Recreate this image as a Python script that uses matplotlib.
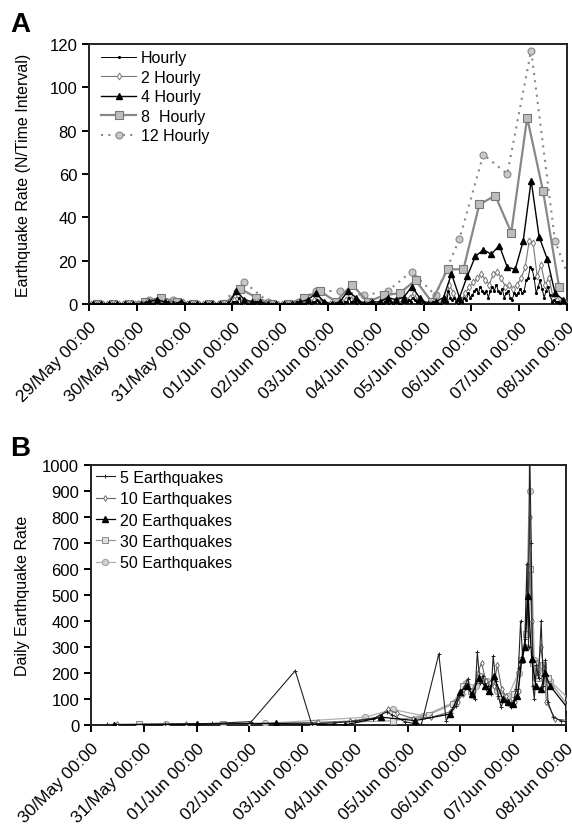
import numpy as np
import matplotlib
matplotlib.use("Agg")
import matplotlib.pyplot as plt

plt.rcParams['font.family'] = ['Liberation Sans', 'DejaVu Sans']

# ---------------- Panel A data (counts per interval) ----------------
a_ticks = ["29/May 00:00", "30/May 00:00", "31/May 00:00", "01/Jun 00:00",
           "02/Jun 00:00", "03/Jun 00:00", "04/Jun 00:00", "05/Jun 00:00",
           "06/Jun 00:00", "07/Jun 00:00", "08/Jun 00:00"]

# hourly counts, one row per day (24 values)
hourly = [
    0,0,0,0,0,0,0,0,0,0,0,0,0,0,0,0,0,0,0,0,0,0,0,0,
    0,0,0,0,1,0,0,0,0,1,1,0,0,0,0,1,0,0,0,0,0,0,1,0,
    0,0,0,0,0,0,0,0,0,0,0,0,0,0,0,0,0,0,0,0,0,0,0,0,
    1,1,1,3,0,1,1,0,0,0,0,1,1,0,0,0,0,0,0,0,0,0,0,0,
    0,0,0,0,0,0,0,0,1,0,0,0,0,1,1,0,1,1,2,1,0,1,0,0,
    0,0,0,0,0,0,1,0,1,1,3,1,1,1,0,1,0,0,0,0,0,1,0,0,
    0,0,1,0,1,1,0,1,0,1,1,0,0,1,1,1,2,1,3,2,1,1,0,1,
    0,0,0,0,1,0,0,0,0,1,1,1,6,3,2,3,1,0,1,1,3,2,5,3,
    4,6,7,5,8,6,5,6,3,6,8,6,9,6,5,7,3,5,6,3,2,5,4,5,
    7,5,6,11,12,17,16,12,5,8,11,7,3,6,8,4,1,2,1,1,0,1,1,0,
]
# 2-hourly counts (12 per day)
hourly2 = [
    0,0,0,0,0,0,0,0,0,0,0,0,
    0,0,1,0,1,1,0,1,0,0,0,1,
    0,0,0,0,0,0,0,0,0,0,0,0,
    2,4,1,1,0,1,1,0,0,0,0,0,
    0,0,0,0,1,0,1,1,2,3,1,0,
    0,0,0,1,2,4,2,1,0,0,1,0,
    0,1,2,1,1,1,1,2,3,5,2,1,
    0,0,1,0,1,2,9,5,1,2,5,8,
    10,12,14,11,9,14,15,12,8,9,7,9,
    12,17,29,28,13,18,9,12,3,2,1,1,
]
# 4-hourly counts (6 per day)
hourly4 = [
    0,0,0,0,0,0,
    0,1,2,1,0,1,
    0,0,0,0,0,0,
    6,2,1,1,0,0,
    0,0,1,2,5,1,
    0,1,6,3,0,1,
    1,3,2,3,8,3,
    0,1,3,14,3,13,
    22,25,23,27,17,16,
    29,57,31,21,5,2,
]
# 8-hourly counts (3 per day)
hourly8 = [0,0,0, 1,3,1, 0,0,0, 7,3,0, 0,3,6, 1,9,1, 4,5,11, 1,16,16, 46,50,33, 86,52,8]
# 12-hourly counts (2 per day), last one falls beyond the axis
hourly12 = [0,0, 2,2, 0,0, 10,1, 0,6, 6,4, 6,15, 4,30, 69,60, 117,29, 0]

# ---------------- Panel B data (daily rate from N-earthquake windows) ----------------
b_ticks = ["30/May 00:00", "31/May 00:00", "01/Jun 00:00", "02/Jun 00:00",
           "03/Jun 00:00", "04/Jun 00:00", "05/Jun 00:00", "06/Jun 00:00",
           "07/Jun 00:00", "08/Jun 00:00"]

t5 = [0.3, 1.4, 2.3, 3.04, 3.87, 4.18, 4.6, 5.0, 5.35, 5.6, 5.7, 5.95, 6.26, 6.59, 6.73,
      6.82, 6.92, 7.02, 7.08, 7.14, 7.2, 7.27, 7.32, 7.37, 7.43, 7.48, 7.53, 7.58, 7.62,
      7.67, 7.72, 7.77, 7.83, 7.9, 7.96, 8.01, 8.06, 8.1, 8.14, 8.18, 8.22, 8.26, 8.29,
      8.31, 8.34, 8.37, 8.4, 8.44, 8.48, 8.53, 8.57, 8.61, 8.66, 8.76, 8.9, 9.05]
v5 = [2, 3, 6, 13, 209, 4, 8, 15, 25, 50, 40, 12, 2, 273, 17,
      45, 75, 130, 150, 178, 110, 100, 280, 160, 190, 140, 150, 120, 265,
      170, 110, 69, 100, 80, 69, 95, 140, 220, 400, 250, 330, 620, 300,
      1100, 700, 150, 100, 230, 180, 400, 150, 250, 88, 31, 16, 10]

t10 = [0.5, 1.8, 3.0, 4.3, 4.9, 5.45, 5.62, 5.8, 6.1, 6.45, 6.8, 6.95, 7.05, 7.15, 7.25,
       7.33, 7.4, 7.48, 7.56, 7.63, 7.7, 7.78, 7.86, 7.95, 8.03, 8.1, 8.16, 8.22, 8.27,
       8.31, 8.35, 8.4, 8.46, 8.52, 8.58, 8.63, 8.8, 9.05]
v10 = [2, 4, 5, 10, 15, 30, 60, 45, 25, 30, 50, 90, 120, 150, 130,
       200, 240, 170, 160, 150, 230, 140, 110, 80, 90, 130, 250, 300, 500,
       800, 400, 180, 200, 300, 220, 88, 23, 17]

t20 = [0.44, 2.0, 3.5, 4.81, 5.5, 6.14, 6.8, 7.0, 7.12, 7.22, 7.35, 7.46, 7.55, 7.63,
       7.8, 7.9, 8.0, 8.08, 8.16, 8.22, 8.28, 8.35, 8.43, 8.53, 8.6, 8.7, 9.05]
v20 = [0, 3, 6, 0, 30, 17, 42, 127, 150, 120, 180, 150, 130, 190,
       100, 90, 81, 110, 254, 300, 497, 254, 150, 138, 200, 150, 60]

t30 = [0.9, 2.5, 4.2, 5.72, 6.4, 6.85, 7.05, 7.2, 7.35, 7.5, 7.62, 7.75, 7.9, 8.02,
       8.15, 8.25, 8.31, 8.38, 8.47, 8.56, 8.65, 9.05]
v30 = [4, 5, 8, 16, 40, 80, 150, 130, 190, 150, 160, 110, 90, 120,
       250, 350, 600, 240, 180, 230, 180, 70]

t50 = [1.43, 3.3, 5.2, 5.72, 6.3, 6.9, 7.1, 7.3, 7.5, 7.7, 7.9, 8.1, 8.22, 8.31, 8.4,
       8.55, 8.7, 9.05]
v50 = [4, 6, 30, 60, 35, 90, 160, 150, 170, 130, 110, 200, 300, 900, 250,
       200, 170, 100]

fig = plt.figure(figsize=(5.72, 8.28), dpi=100)
axA = fig.add_axes([89/572, 1-305/828, 478/572, 260/828])
axB = fig.add_axes([91/572, 1-726/828, 475/572, 260/828])

# bin centres in days
xh = (np.arange(len(hourly)) + 0.5) / 24
x2 = (np.arange(len(hourly2)) + 0.5) / 12
x4 = (np.arange(len(hourly4)) + 0.5) / 6
x8 = (np.arange(len(hourly8)) + 0.5) / 3
x12 = (np.arange(len(hourly12)) + 0.5) / 2

axA.plot(xh, hourly, color="black", lw=0.7, marker=".", ms=2.5, label="Hourly", zorder=5)
axA.plot(x2, hourly2, color="#777777", lw=0.8, marker="d", ms=3.5, mfc="white",
         mec="#777777", mew=0.7, label="2 Hourly", zorder=4)
axA.plot(x4, hourly4, color="black", lw=1.0, marker="^", ms=5, mfc="black", label="4 Hourly", zorder=6)
axA.plot(x8, hourly8, color="#888888", lw=1.6, marker="s", ms=5.5, mfc="#bdbdbd",
         mec="#777777", mew=0.8, label="8  Hourly", zorder=3)
axA.plot(x12, hourly12, color="#888888", lw=1.5, ls=(0, (1, 2.5)), marker="o", ms=5,
         mfc="#c8c8c8", mec="#888888", mew=0.8, label="12 Hourly", zorder=2)

axA.set_xlim(0, 10)
axA.set_ylim(0, 120)
axA.set_yticks(range(0, 121, 20))
axA.set_xticks(range(11))
axA.set_xticklabels(a_ticks, rotation=45, ha="right", rotation_mode="anchor")
axA.set_ylabel("Earthquake Rate (N/Time Interval)", fontsize=11.5, labelpad=13)
axA.legend(loc="upper left", frameon=False, fontsize=11.5, handlelength=2.2,
           handletextpad=0.3, labelspacing=0.28, borderaxespad=0.0,
           bbox_to_anchor=(0.012, 1.0))

axB.plot(t5, v5, color="#222222", lw=0.8, marker="+", ms=3, mew=0.7, label="5 Earthquakes", zorder=6)
axB.plot(t10, v10, color="#666666", lw=0.8, marker="d", ms=3, mfc="white", mec="#555555",
         mew=0.6, label="10 Earthquakes", zorder=5)
axB.plot(t20, v20, color="black", lw=0.9, marker="^", ms=5, mfc="black", label="20 Earthquakes", zorder=7)
axB.plot(t30, v30, color="#999999", lw=0.9, marker="s", ms=4.5, mfc="#e0e0e0", mec="#888888",
         mew=0.7, label="30 Earthquakes", zorder=4)
axB.plot(t50, v50, color="#b0b0b0", lw=0.9, marker="o", ms=4.5, mfc="#d0d0d0", mec="#999999",
         mew=0.7, label="50 Earthquakes", zorder=3)

axB.set_xlim(0, 9)
axB.set_ylim(0, 1000)
axB.set_yticks(range(0, 1001, 100))
axB.set_xticks(range(10))
axB.set_xticklabels(b_ticks, rotation=45, ha="right", rotation_mode="anchor")
axB.set_ylabel("Daily Earthquake Rate", fontsize=11.5, labelpad=9)
axB.legend(loc="upper left", frameon=False, fontsize=11.5, handlelength=1.2,
           handletextpad=0.3, labelspacing=0.4, borderpad=0.2, borderaxespad=0.1)

for ax in (axA, axB):
    for s in ax.spines.values():
        s.set_linewidth(1.4)
        s.set_color("#222222")
    ax.tick_params(axis="both", direction="out", length=5, width=1.4, labelsize=12,
                   top=False, right=False)
    ax.tick_params(axis="x", labelsize=12.5, pad=6)

fig.text(10/572, 1-32/828, "A", fontsize=20, fontweight="bold")
fig.text(10/572, 1-456/828, "B", fontsize=20, fontweight="bold")

fig.savefig("out.png", dpi=100)
